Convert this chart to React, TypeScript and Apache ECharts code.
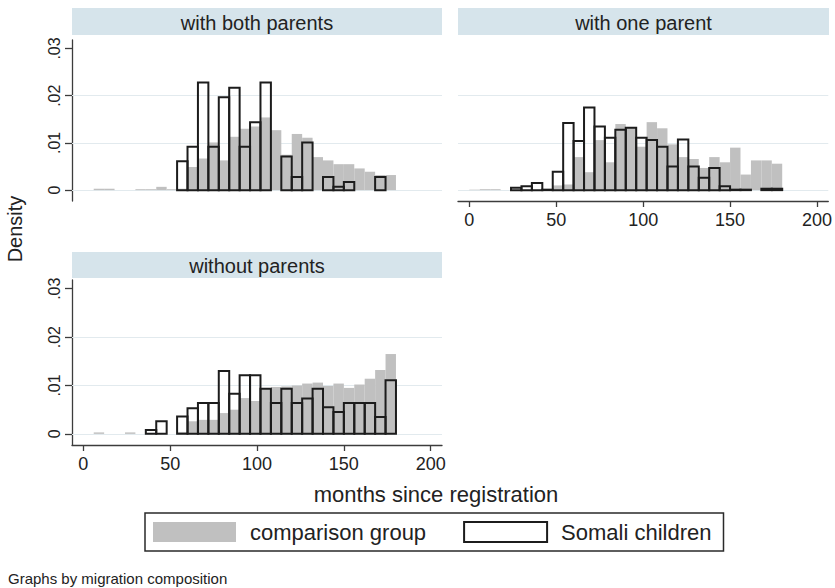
import React, { useEffect, useRef } from "react";
import * as echarts from "echarts";

// ---- data (density per 6-month bin, bin start in months) ----
const BIN_STARTS = [0, 6, 12, 18, 24, 30, 36, 42, 48, 54, 60, 66, 72, 78, 84, 90, 96, 102, 108, 114, 120, 126, 132, 138, 144, 150, 156, 162, 168, 174];
const BIN_WIDTH = 6;

const PANEL_TITLES = ["with both parents", "with one parent", "without parents"];
const SERIES_NAMES = ["comparison group", "Somali children"];

const bothComparison = [0, 0.0003, 0.0003, 0, 0, 0.0002, 0.0002, 0.0007, 0.0002, 0.0003, 0.0049, 0.0067, 0.0101, 0.0063, 0.0113, 0.013, 0.0135, 0.0154, 0.0127, 0.0075, 0.0119, 0.0111, 0.007, 0.0063, 0.0055, 0.0055, 0.0046, 0.0039, 0.0032, 0.0032];
const bothSomali = [0, 0, 0, 0, 0, 0, 0, 0, 0, 0.0061, 0.0092, 0.0228, 0.0092, 0.0197, 0.0217, 0.0092, 0.0144, 0.0228, 0, 0.0071, 0.0028, 0.0101, 0, 0.0028, 0.0007, 0.0017, 0, 0, 0.0028, 0];

const oneComparison = [0.0001, 0.0002, 0.0002, 0, 0, 0, 0, 0, 0.001, 0.0012, 0.007, 0.0038, 0.0106, 0.0059, 0.014, 0.0133, 0.0092, 0.0144, 0.0131, 0.0097, 0.007, 0.0066, 0.0047, 0.007, 0.0059, 0.009, 0.0033, 0.0063, 0.0063, 0.0056];
const oneSomali = [0, 0, 0, 0, 0.0005, 0.0008, 0.0015, 0.0001, 0.0039, 0.0142, 0.0104, 0.0175, 0.0135, 0.0111, 0.0128, 0.0132, 0.0111, 0.0106, 0.0092, 0.005, 0.0107, 0.005, 0.0026, 0.0047, 0.0008, 0.0001, 0.0001, 0, 0.0003, 0.0003];

const withoutComparison = [0, 0.0003, 0, 0, 0.0003, 0, 0, 0, 0, 0.0004, 0.0026, 0.0029, 0.0029, 0.0043, 0.005, 0.0074, 0.0068, 0.0093, 0.0097, 0.0098, 0.01, 0.0104, 0.0106, 0.0099, 0.0104, 0.0095, 0.0102, 0.0114, 0.0132, 0.0165];
const withoutSomali = [0, 0, 0, 0, 0, 0, 0.0008, 0.0026, 0, 0.0036, 0.0053, 0.0064, 0.0064, 0.013, 0.0083, 0.0121, 0.0121, 0.0093, 0.0064, 0.0093, 0.0064, 0.0073, 0.0093, 0.0055, 0.0045, 0.0064, 0.0064, 0.0064, 0.0035, 0.0111];

const PANELS = [
  [bothComparison, bothSomali],
  [oneComparison, oneSomali],
  [withoutComparison, withoutSomali],
];

const X_TICKS = [0, 50, 100, 150, 200];
const Y_TICKS = [0, 0.01, 0.02, 0.03];
const GRID_LEVELS = [0, 0.01, 0.02];

// ---- styling / layout ----
const FONT = "'Liberation Sans', Arial, Helvetica, sans-serif";
const GREY = "#c0c0c0";
const OUTLINE = "#1c1c1c";
const STRIP = "#d6e4eb";
const AXIS = "#3c3c3c";
const TEXT = "#222222";

const GRIDS = [
  { left: 72, top: 40, width: 370, height: 161 },
  { left: 458, top: 40, width: 371, height: 161 },
  { left: 72, top: 280, width: 370, height: 165 },
];
const STRIPS = [
  { top: 8, height: 27 },
  { top: 8, height: 27 },
  { top: 252, height: 26 },
];

function toBins(values: number[]) {
  return BIN_STARTS.map((s, i) => [s, s + BIN_WIDTH, values[i]]).filter((d) => d[2] > 0);
}

function makeRender(filled: boolean) {
  return (_params: any, api: any) => {
    const x0 = api.value(0);
    const x1 = api.value(1);
    const v = api.value(2);
    const a = api.coord([x0, v]);
    const b = api.coord([x1, 0]);
    return {
      type: "rect",
      shape: { x: a[0], y: a[1], width: b[0] - a[0], height: b[1] - a[1] },
      style: filled
        ? { fill: GREY }
        : { fill: "none", stroke: OUTLINE, lineWidth: 2 },
    };
  };
}

const yFormatter = (v: number) => (v === 0 ? "0" : "." + String(Math.round(v * 100)).padStart(2, "0"));

export default function App() {
  const ref = useRef<HTMLDivElement>(null);

  useEffect(() => {
    if (!ref.current) return;
    const chart = echarts.init(ref.current, undefined, { renderer: "svg" });

    const xAxes = GRIDS.map((_, i) => ({
      gridIndex: i,
      type: "value",
      min: -6.5,
      max: 206.5,
      show: i !== 0,
      axisLine: { show: true, onZero: false, lineStyle: { color: AXIS, width: 1.3 } },
      axisTick: { show: true, length: 6, customValues: X_TICKS, lineStyle: { color: AXIS, width: 1.3 } },
      axisLabel: { customValues: X_TICKS, fontSize: 18, color: TEXT, fontFamily: FONT, margin: 10 },
      splitLine: { show: false },
    }));

    const yAxes = GRIDS.map((_, i) => ({
      gridIndex: i,
      type: "value",
      min: -0.0023,
      max: 0.0318,
      show: i !== 1,
      axisLine: { show: true, onZero: false, lineStyle: { color: AXIS, width: 1.3 } },
      axisTick: { show: true, length: 7, customValues: Y_TICKS, lineStyle: { color: AXIS, width: 1.3 } },
      axisLabel: {
        customValues: Y_TICKS,
        rotate: 90,
        formatter: yFormatter,
        fontSize: 16,
        color: TEXT,
        fontFamily: FONT,
        margin: 10,
      },
      splitLine: { show: false },
    }));

    const series: any[] = [];
    PANELS.forEach(([comp, som], i) => {
      series.push({
        type: "custom",
        name: SERIES_NAMES[0],
        xAxisIndex: i,
        yAxisIndex: i,
        silent: true,
        z: 2,
        itemStyle: { color: GREY },
        encode: { x: [0, 1], y: 2 },
        data: toBins(comp),
        renderItem: makeRender(true),
        markLine: {
          silent: true,
          symbol: ["none", "none"],
          z: 1,
          label: { show: false },
          lineStyle: { color: "#e2eaee", width: 1, type: "solid" },
          data: GRID_LEVELS.map((v) => ({ yAxis: v })),
        },
      });
      series.push({
        type: "custom",
        name: SERIES_NAMES[1],
        xAxisIndex: i,
        yAxisIndex: i,
        silent: true,
        z: 3,
        itemStyle: { color: "#ffffff", borderColor: OUTLINE, borderWidth: 2 },
        encode: { x: [0, 1], y: 2 },
        data: toBins(som),
        renderItem: makeRender(false),
      });
    });

    const graphic: any[] = [];
    GRIDS.forEach((g, i) => {
      graphic.push({
        type: "rect",
        shape: { x: g.left, y: STRIPS[i].top, width: g.width, height: STRIPS[i].height },
        style: { fill: STRIP },
        silent: true,
      });
      graphic.push({
        type: "text",
        x: g.left + g.width / 2,
        y: STRIPS[i].top + STRIPS[i].height / 2 + 1,
        style: {
          text: PANEL_TITLES[i],
          fontSize: 20,
          fontFamily: FONT,
          fill: TEXT,
          align: "center",
          verticalAlign: "middle",
        },
        silent: true,
      });
    });
    graphic.push({
      type: "text",
      x: 15,
      y: 229,
      rotation: Math.PI / 2,
      style: { text: "Density", fontSize: 20, fontFamily: FONT, fill: TEXT, align: "center", verticalAlign: "middle" },
      silent: true,
    });
    graphic.push({
      type: "text",
      x: 436,
      y: 494,
      style: { text: "months since registration", fontSize: 22, fontFamily: FONT, fill: TEXT, align: "center", verticalAlign: "middle" },
      silent: true,
    });
    graphic.push({
      type: "text",
      x: 8,
      y: 578,
      style: { text: "Graphs by migration composition", fontSize: 15, fontFamily: FONT, fill: TEXT, align: "left", verticalAlign: "middle" },
      silent: true,
    });

    chart.setOption({
      animation: false,
      backgroundColor: "#ffffff",
      grid: GRIDS.map((g) => ({ ...g, containLabel: false })),
      xAxis: xAxes,
      yAxis: yAxes,
      series,
      graphic,
      legend: {
        left: 145,
        top: 513,
        orient: "horizontal",
        padding: [8, 12, 8, 8],
        itemWidth: 83,
        itemHeight: 20,
        itemGap: 37,
        borderColor: "#2a2a2a",
        borderWidth: 1.5,
        borderRadius: 0,
        selectedMode: false,
        textStyle: { fontSize: 22, color: TEXT, fontFamily: FONT, padding: [0, 0, 0, 9] },
        data: [
          { name: SERIES_NAMES[0], icon: "rect", itemStyle: { color: GREY, borderWidth: 0 } },
          { name: SERIES_NAMES[1], icon: "rect", itemStyle: { color: "#ffffff", borderColor: OUTLINE, borderWidth: 2 } },
        ],
      },
    });

    return () => chart.dispose();
  }, []);

  return <div ref={ref} style={{ position: "absolute", left: 0, top: 0, width: 835, height: 588 }} />;
}
